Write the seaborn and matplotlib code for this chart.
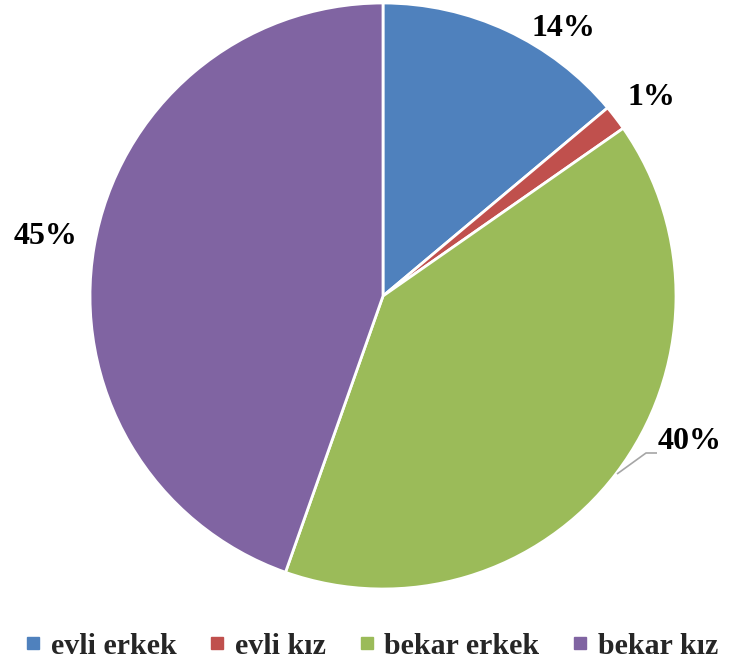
import numpy as np
import matplotlib
matplotlib.use("Agg")
import matplotlib.pyplot as plt
from matplotlib.lines import Line2D
import seaborn as sns

# data
categories = ["evli erkek", "evli kız", "bekar erkek", "bekar kız"]
shares = [13.9, 1.4, 40.1, 44.6]
colors = ["#4F81BD", "#C0504D", "#9BBB59", "#8064A2"]

# label placement (radius factor, angle in degrees) around the pie
label_pos = [(1.10, 56), (1.14, 36.5), (1.16, -25.4), (1.17, 170)]

sns.set_theme(style="white")
plt.rcParams["font.family"] = ["Liberation Serif", "DejaVu Serif"]

W, H = 735, 668
fig = plt.figure(figsize=(W / 100, H / 100), dpi=100)
ax = fig.add_axes([0, 0, 1, 1])

cx, cy, r = 383, 296, 293
wedges, _, autotexts = ax.pie(
    shares, colors=colors, startangle=90, counterclock=False,
    autopct="%.0f%%", radius=1,
    wedgeprops=dict(edgecolor="white", linewidth=2),
)
ax.set_aspect("auto")
ax.set_xlim(-cx / r, (W - cx) / r)
ax.set_ylim(-(H - cy) / r, cy / r)
ax.axis("off")

for t, (rf, ang) in zip(autotexts, label_pos):
    a = np.deg2rad(ang)
    t.set_position((rf * np.cos(a), rf * np.sin(a)))
    t.set_fontsize(23)
    t.set_fontweight("bold")
    t.set_color("black")
    t.set_ha("center")
    t.set_va("center")

# leader line for the 40% label
lx = np.array([617, 646, 657])
ly = np.array([474, 453, 453])
ax.plot((lx - cx) / r, (cy - ly) / r, color="#A6A6A6", lw=1.2, solid_capstyle="butt")

handles = [Line2D([], [], marker="s", linestyle="none", markersize=9,
                  markerfacecolor=c, markeredgecolor=c) for c in colors]
fig.legend(handles, categories, loc="center", ncol=4,
           bbox_to_anchor=(372 / W, 1 - 646 / H), frameon=False,
           prop=dict(family="Liberation Serif", weight="bold", size=21.5),
           handlelength=0.5, handletextpad=0.35, columnspacing=1.1,
           borderaxespad=0, borderpad=0)

fig.savefig("out.png", dpi=100)
